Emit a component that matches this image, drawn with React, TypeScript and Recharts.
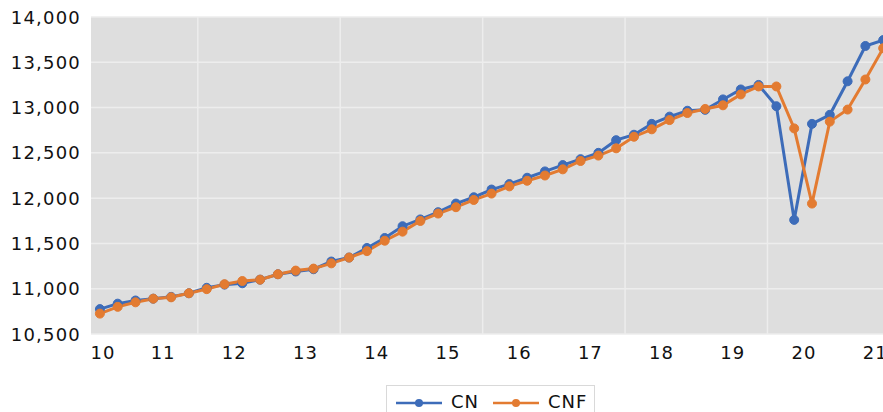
import React from 'react';
import { LineChart, Line, XAxis, YAxis, CartesianGrid, ReferenceLine, Legend } from 'recharts';

const cn = [
  10775, 10835, 10870, 10890, 10910, 10950, 11010, 11045, 11060, 11100,
  11160, 11190, 11215, 11300, 11344, 11450, 11560, 11690, 11765, 11845,
  11940, 12010, 12095, 12155, 12225, 12295, 12365, 12430, 12500, 12640,
  12700, 12820, 12900, 12965, 12975, 13090, 13200, 13250, 13015, 11760,
  12820, 12920, 13290, 13680, 13745,
];

const cnf = [
  10725, 10800, 10850, 10890, 10905, 10950, 10995, 11050, 11085, 11100,
  11160, 11200, 11222, 11280, 11344, 11415, 11530, 11630, 11748, 11830,
  11900, 11980, 12050, 12130, 12192, 12250, 12318, 12410, 12470, 12550,
  12678, 12760, 12862, 12940, 12985, 13025, 13145, 13233, 13233, 12770,
  11940, 12845, 12978, 13310, 13655,
];

const yearLabels = ['10', '11', '12', '13', '14', '15', '16', '17', '18', '19', '20', '21'];
const yTicks = [10500, 11000, 11500, 12000, 12500, 13000, 13500, 14000];
const gridQuarters = [5.5, 13.5, 21.5, 29.5, 37.5];

const seriesNames = ['CN', 'CNF'];
const BLUE = '#3d6cb9';
const ORANGE = '#e37b31';
const FONT = '"DejaVu Sans", Verdana, sans-serif';

const data = cn.map((v, i) => ({ t: i, CN: v, CNF: cnf[i] }));
const xTicks = yearLabels.map((_, i) => (i === 0 ? -0.5 : i * 4 - 0.45));

const XTick = (props: any) => {
  const { x, y, payload } = props;
  const i = xTicks.indexOf(payload.value);
  const first = i === 0;
  return (
    <text
      x={first ? x - 0.5 : x}
      y={y}
      dy={13}
      textAnchor={first ? 'start' : 'middle'}
      fontFamily={FONT}
      fontSize={18}
      letterSpacing={1}
      fill="#111"
    >
      {yearLabels[i]}
    </text>
  );
};

const YTick = (props: any) => {
  const { x, y, payload } = props;
  return (
    <text
      x={x}
      y={y}
      dy={6.5}
      textAnchor="end"
      fontFamily={FONT}
      fontSize={18}
      letterSpacing={1.2}
      fill="#111"
    >
      {payload.value.toLocaleString('en-US')}
    </text>
  );
};

const LegendContent = () => {
  const colors = [BLUE, ORANGE];
  return (
    <div
      style={{
        boxSizing: 'border-box',
        width: 209,
        height: 40,
        border: '1px solid #d9d9d9',
        display: 'flex',
        alignItems: 'flex-start',
        paddingLeft: 9,
        paddingTop: 5,
        fontFamily: FONT,
        fontSize: 18,
        letterSpacing: 1,
        color: '#111',
        background: '#fff',
      }}
    >
      {seriesNames.map((name, i) => (
        <div key={name} style={{ display: 'flex', alignItems: 'center', marginRight: i === 0 ? 14 : 0 }}>
          <svg width={46} height={20} style={{ display: 'block' }}>
            <line x1={0} y1={11} x2={46} y2={11} stroke={colors[i]} strokeWidth={2.5} />
            <circle cx={23} cy={11} r={4} fill={colors[i]} />
          </svg>
          <span style={{ marginLeft: 9, lineHeight: '22px' }}>{name}</span>
        </div>
      ))}
    </div>
  );
};

export default function App() {
  return (
    <div
      style={{
        position: 'fixed',
        left: 0,
        top: 0,
        width: 883,
        height: 412,
        overflow: 'hidden',
        background: '#fff',
      }}
    >
      <LineChart
        width={901}
        height={412}
        data={data}
        margin={{ top: 17, right: 0, bottom: 48, left: 0 }}
      >
        <CartesianGrid vertical={false} fill="#dedede" stroke="#ededed" strokeWidth={1.5} />
        {gridQuarters.map((q) => (
          <ReferenceLine key={q} x={q} stroke="#ededed" strokeWidth={1.5} />
        ))}
        <XAxis
          type="number"
          dataKey="t"
          domain={[-0.5, 45]}
          ticks={xTicks}
          interval={0}
          tick={<XTick />}
          tickLine={false}
          axisLine={false}
          tickSize={0}
          tickMargin={12}
          height={30}
          allowDataOverflow
        />
        <YAxis
          type="number"
          domain={[10500, 14000]}
          ticks={yTicks}
          interval={0}
          tick={<YTick />}
          tickLine={false}
          axisLine={false}
          tickSize={0}
          tickMargin={10}
          width={91}
          allowDataOverflow
        />
        <Legend
          verticalAlign="middle"
          layout="horizontal"
          wrapperStyle={{ left: 386, top: 385, width: 209, height: 40 }}
          content={<LegendContent />}
        />
        <Line
          type="linear"
          dataKey="CN"
          stroke={BLUE}
          strokeWidth={3}
          dot={{ r: 4.5, fill: BLUE, stroke: BLUE, strokeWidth: 1 }}
          activeDot={false}
          isAnimationActive={false}
        />
        <Line
          type="linear"
          dataKey="CNF"
          stroke={ORANGE}
          strokeWidth={3}
          dot={{ r: 4.5, fill: ORANGE, stroke: ORANGE, strokeWidth: 1 }}
          activeDot={false}
          isAnimationActive={false}
        />
      </LineChart>
    </div>
  );
}
